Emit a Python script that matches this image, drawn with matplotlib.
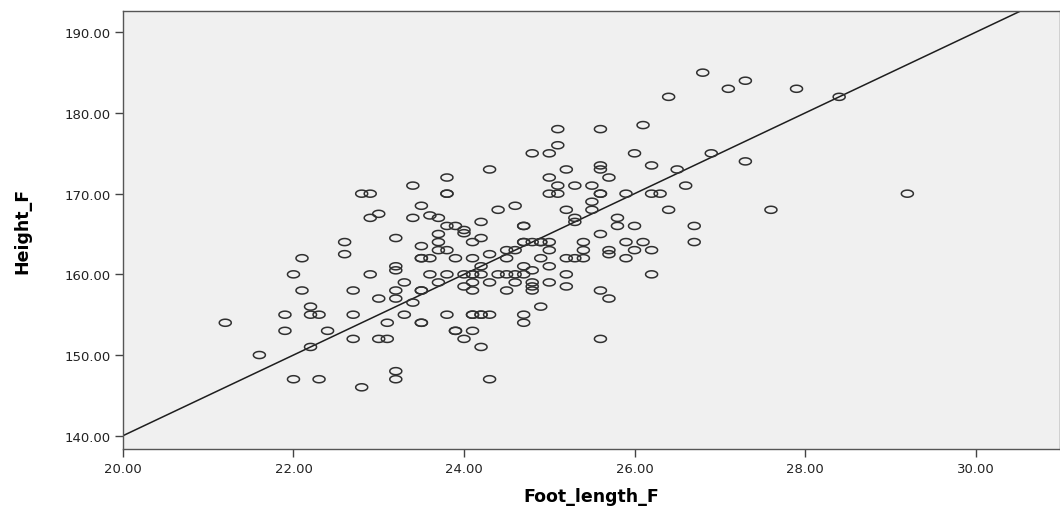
import numpy as np
import matplotlib
matplotlib.use('Agg')
from matplotlib import pyplot as plt
from matplotlib.path import Path

# foot length (cm) -> heights (cm), grouped by foot length
groups = [
    (21.2, [154]),
    (21.6, [150]),
    (21.9, [155, 153]),
    (22.0, [160, 147]),
    (22.1, [162, 158]),
    (22.2, [156, 155, 151]),
    (22.3, [155, 147]),
    (22.4, [153]),
    (22.6, [164, 162.5]),
    (22.7, [158, 155, 152]),
    (22.8, [170, 146]),
    (22.9, [170, 167, 160]),
    (23.0, [167.5, 157, 152]),
    (23.1, [154, 152]),
    (23.2, [164.5, 161, 160.5, 158, 157, 148, 147]),
    (23.3, [159, 155]),
    (23.4, [171, 167, 156.5]),
    (23.5, [168.5, 163.5, 162, 162, 158, 158, 154, 154]),
    (23.6, [167.3, 162, 160]),
    (23.7, [167, 165, 164, 163, 159]),
    (23.8, [172, 170, 170, 166, 163, 160, 155]),
    (23.9, [166, 162, 153, 153]),
    (24.0, [165.5, 165.1, 160, 158.5, 152]),
    (24.1, [164, 162, 160, 160, 159, 158, 155, 155, 153]),
    (24.2, [166.5, 164.5, 161, 160, 155, 155, 151]),
    (24.3, [173, 162.5, 159, 155, 147]),
    (24.4, [168, 160]),
    (24.5, [163, 162, 160, 158]),
    (24.6, [168.5, 163, 160, 159]),
    (24.7, [166, 166, 164, 164, 161, 160, 155, 154]),
    (24.8, [175, 164, 160.5, 159, 158.5, 158]),
    (24.9, [164, 164, 162, 156]),
    (25.0, [175, 172, 170, 164, 163, 161, 159]),
    (25.1, [178, 176, 171, 170]),
    (25.2, [173, 168, 162, 160, 158.5]),
    (25.3, [171, 167, 166.5, 162]),
    (25.4, [164, 163, 162]),
    (25.5, [171, 169, 168]),
    (25.6, [178, 173.5, 173, 170, 170, 165, 158, 152]),
    (25.7, [172, 163, 162.5, 157]),
    (25.8, [167, 166]),
    (25.9, [170, 164, 162]),
    (26.0, [175, 166, 163]),
    (26.1, [178.5, 164]),
    (26.2, [173.5, 170, 163, 160]),
    (26.3, [170]),
    (26.4, [182, 168]),
    (26.5, [173]),
    (26.6, [171]),
    (26.7, [166, 164]),
    (26.8, [185]),
    (26.9, [175]),
    (27.1, [183]),
    (27.3, [184, 174]),
    (27.6, [168]),
    (27.9, [183]),
    (28.4, [182]),
    (29.2, [170]),
]
foot_length = [fl for fl, hs in groups for h in hs]
height = [h for fl, hs in groups for h in hs]

# fit line
fit_intercept = 40.0
fit_slope = 5.0

x_ticks = [20, 22, 24, 26, 28, 30]
y_ticks = [140, 150, 160, 170, 180, 190]

# open ellipse marker (the chart is stretched sideways)
t = np.linspace(0, 2 * np.pi, 60)
ellipse = Path(np.column_stack([1.7 * np.cos(t), np.sin(t)]))

fig = plt.figure(figsize=(10.6, 5.1), dpi=100)
ax = fig.add_axes([0.116, 0.1176, 0.884, 0.8595])
ax.set_facecolor('#f0f0f0')

ax.scatter(foot_length, height, marker=ellipse, s=75, facecolors='none',
           edgecolors='#303030', linewidths=1.1, zorder=3)

xlim = (20, 30.99)
ax.set_xlim(*xlim)
ax.set_ylim(138.35, 192.68)
xs = np.array(xlim)
ax.plot(xs, fit_intercept + fit_slope * xs, color='#1e1e1e', lw=1.1, zorder=2)

ax.set_xticks(x_ticks)
ax.set_yticks(y_ticks)
ax.set_xticklabels([f'{v:.2f}' for v in x_ticks])
ax.set_yticklabels([f'{v:.2f}' for v in y_ticks])
ax.tick_params(direction='out', length=6, width=1, color='#444444',
               labelsize=9.5, labelcolor='#222222', pad=3)

for side in ['left', 'bottom', 'top', 'right']:
    ax.spines[side].set_color('#555555')
    ax.spines[side].set_linewidth(1.0)

ax.set_xlabel('Foot_length_F', fontsize=12.5, fontweight='bold', labelpad=9)
ax.set_ylabel('Height_F', fontsize=12.5, fontweight='bold', labelpad=24)

fig.savefig('out.png', dpi=100)
